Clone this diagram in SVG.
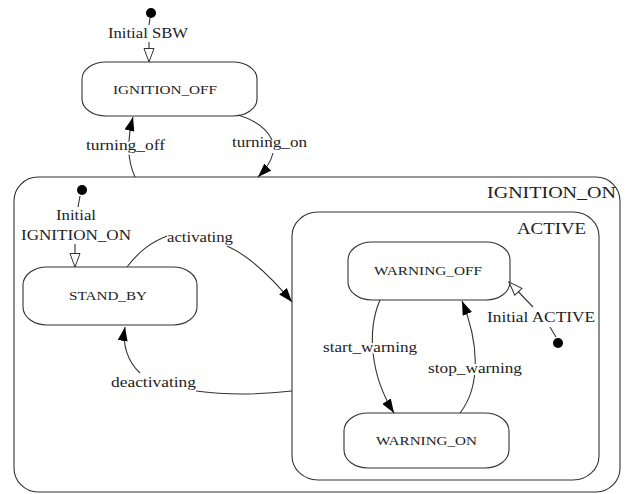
<svg xmlns="http://www.w3.org/2000/svg" width="628" height="494" viewBox="0 0 628 494">
<defs>
<style>
.st{fill:#fff;stroke:#333;stroke-width:1.1}
.t{font-family:"Liberation Serif","Times New Roman",serif;fill:#222}
.nl{font-size:13px}
.el{font-size:15px}
.cl{font-size:16px}
.halo{stroke:#fff;stroke-width:4;paint-order:stroke;stroke-linejoin:round}
.c{fill:none;stroke:#333;stroke-width:1.1}
.dot{fill:#000}
</style>
<marker id="ah" markerUnits="userSpaceOnUse" markerWidth="14" markerHeight="10" refX="14" refY="5" orient="auto" viewBox="0 0 14 10">
<path d="M0,0 L14,5 L0,10 z" fill="#000"/>
</marker>
<marker id="oh" markerUnits="userSpaceOnUse" markerWidth="16" markerHeight="12" refX="14.5" refY="6" orient="auto" viewBox="0 0 16 12">
<path d="M1,1 L14.5,6 L1,11 z" fill="#fff" stroke="#333" stroke-width="1"/>
</marker>
</defs>
<rect width="628" height="494" fill="#fff"/>

<g id="IGNITION_ON">
<rect class="st" x="14" y="177" width="606" height="315" rx="24" ry="24"/>
<text class="t cl" x="487" y="198" textLength="129" lengthAdjust="spacingAndGlyphs">IGNITION_ON</text>
</g>
<g id="ACTIVE">
<rect class="st" x="292" y="212" width="307" height="268" rx="26" ry="24"/>
<text class="t cl" x="517" y="234" textLength="69" lengthAdjust="spacingAndGlyphs">ACTIVE</text>
</g>
<g id="IGNITION_OFF">
<rect class="st" x="82" y="62" width="175" height="54" rx="24" ry="17"/>
<text class="t nl" x="113" y="94" textLength="104" lengthAdjust="spacingAndGlyphs">IGNITION_OFF</text>
</g>
<g id="STAND_BY">
<rect class="st" x="23" y="267" width="174" height="58" rx="24" ry="18"/>
<text class="t nl" x="69" y="300" textLength="78" lengthAdjust="spacingAndGlyphs">STAND_BY</text>
</g>
<g id="WARNING_OFF">
<rect class="st" x="348" y="242" width="162" height="58" rx="24" ry="18"/>
<text class="t nl" x="374" y="275" textLength="108" lengthAdjust="spacingAndGlyphs">WARNING_OFF</text>
</g>
<g id="WARNING_ON">
<rect class="st" x="344" y="413" width="165" height="55" rx="24" ry="18"/>
<text class="t nl" x="376" y="445" textLength="101" lengthAdjust="spacingAndGlyphs">WARNING_ON</text>
</g>
<g id="init_SBW">
<circle class="dot" cx="151" cy="13" r="5"/>
</g>
<g id="init_IGNITION_ON">
<circle class="dot" cx="82" cy="190" r="5"/>
</g>
<g id="init_ACTIVE">
<circle class="dot" cx="558" cy="343" r="5"/>
</g>

<g id="connectors">
<path class="c" d="M150,18 L149,25"/>
<path class="c" d="M149,42 L149,62" marker-end="url(#oh)"/>
<text class="t el" x="108" y="38" textLength="80" lengthAdjust="spacingAndGlyphs">Initial SBW</text>

<path class="c" d="M135,177 C127,160 127,140 133,117" marker-end="url(#ah)"/>
<text class="t el halo" x="86" y="150" textLength="79" lengthAdjust="spacingAndGlyphs">turning_off</text>

<path class="c" d="M238,115 C258,121 268,131 272,140"/>
<path class="c" d="M273,153 C271,162 265,170 258,177" marker-end="url(#ah)"/>
<text class="t el" x="232" y="147" textLength="75" lengthAdjust="spacingAndGlyphs">turning_on</text>

<path class="c" d="M80,196 L78,207"/>
<text class="t el" x="56" y="220" textLength="40" lengthAdjust="spacingAndGlyphs">Initial</text>
<text class="t el" x="21" y="240" textLength="110" lengthAdjust="spacingAndGlyphs">IGNITION_ON</text>
<path class="c" d="M75,244 L75,267" marker-end="url(#oh)"/>

<path class="c" d="M127,267 C140,250 152,242 167,236"/>
<path class="c" d="M227,246 C250,256 272,278 292,302" marker-end="url(#ah)"/>
<text class="t el" x="167" y="242" textLength="66" lengthAdjust="spacingAndGlyphs">activating</text>

<path class="c" d="M292,391 Q240,397 196,391"/>
<path class="c" d="M140,373 C128,362 122,345 125,327" marker-end="url(#ah)"/>
<text class="t el" x="111" y="387" textLength="85" lengthAdjust="spacingAndGlyphs">deactivating</text>

<path class="c" d="M380,300 C367,330 370,375 394,413" marker-end="url(#ah)"/>
<text class="t el halo" x="323" y="352" textLength="94" lengthAdjust="spacingAndGlyphs">start_warning</text>

<path class="c" d="M460,413 C482,385 478,340 462,301" marker-end="url(#ah)"/>
<text class="t el halo" x="428" y="373" textLength="94" lengthAdjust="spacingAndGlyphs">stop_warning</text>

<path class="c" d="M556,337 L550,327"/>
<path class="c" d="M533,307 L509,282" marker-end="url(#oh)"/>
<text class="t el" x="487" y="322" textLength="108" lengthAdjust="spacingAndGlyphs">Initial ACTIVE</text>
</g>
</svg>
